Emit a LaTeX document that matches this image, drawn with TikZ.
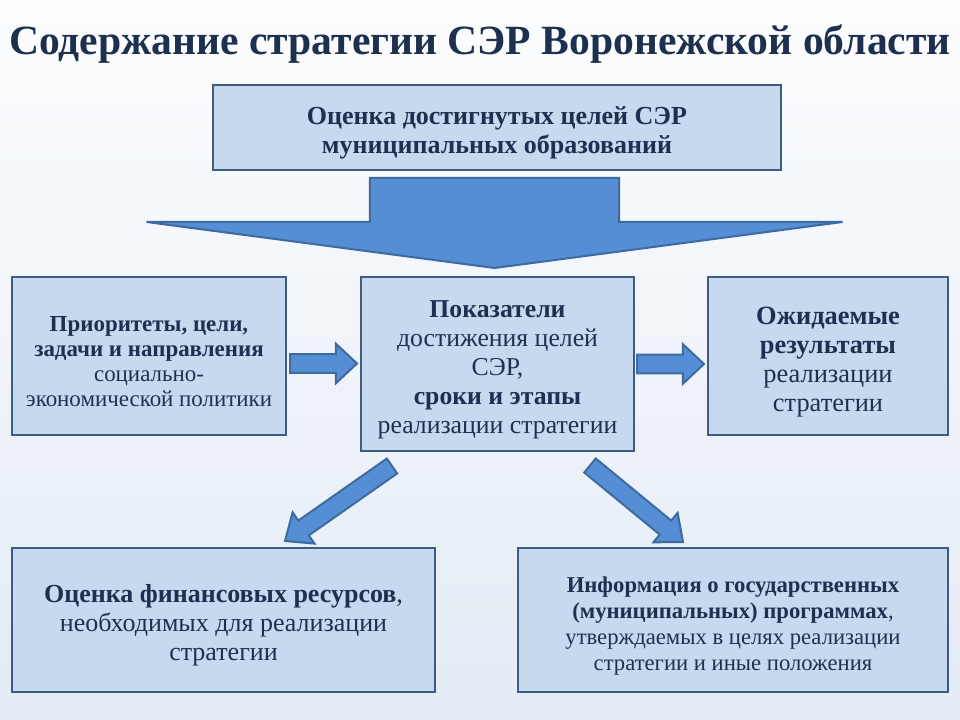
\documentclass[tikz,border=0pt]{standalone}
\usepackage{fontspec}
\setmainfont{Liberation Serif}
\usetikzlibrary{calc}

\definecolor{textnavy}{HTML}{1E3050}
\definecolor{boxfill}{HTML}{C6D9EF}
\definecolor{boxline}{HTML}{3E5B80}
\definecolor{arrowfill}{HTML}{558ED5}
\definecolor{arrowline}{HTML}{3D6A9F}
\definecolor{bgtop}{HTML}{FCFDFE}
\definecolor{bgbottom}{HTML}{E3EBF5}

\tikzset{
  infobox/.style={draw=boxline, fill=boxfill, line width=2pt, text=textnavy,
    align=center, inner sep=0pt},
  blockarrow/.style={draw=arrowline, fill=arrowfill, line width=1.5pt, line join=miter}
}

% extra room above the first line, moves the text a bit down in its box
\newcommand{\topgap}{\rule{0pt}{\dimexpr 0.72em+8pt\relax}}

% block arrow from #1 to #2: shaft half width #3, head half width #4, head length #5
\newcommand{\blockarrow}[5]{%
  \coordinate (ba-h) at ($(#2)!#5!(#1)$);
  \draw[blockarrow] ($(#1)!#3!90:(#2)$) -- ($(ba-h)!#3!-90:(#1)$)
    -- ($(ba-h)!#4!-90:(#1)$) -- (#2) -- ($(ba-h)!#4!90:(#1)$)
    -- ($(ba-h)!#3!90:(#1)$) -- ($(#1)!#3!-90:(#2)$) -- cycle;
}

\begin{document}
\begin{tikzpicture}[x=0.75pt, y=-0.75pt]
  % Background
  \useasboundingbox (0,0) rectangle (960,720);
  \shade[top color=bgtop, bottom color=bgbottom] (0,0) rectangle (960,720);

  % Title
  \node[text=textnavy, font=\fontsize{31.2}{36}\selectfont\bfseries] (title) at (480,44)
    {Содержание стратегии СЭР Воронежской области};

  % Boxes (sizes in px, 1px = 0.75pt)
  \node[infobox, minimum width=568*0.75, minimum height=85*0.75,
    font=\fontsize{19.5}{21.75}\selectfont\bfseries] (otsenka) at (497,127.5)
    {\topgap Оценка достигнутых целей СЭР\\муниципальных образований};
  \node[infobox, minimum width=274*0.75, minimum height=158*0.75,
    font=\fontsize{17.2}{18.75}\selectfont] (prior) at (149,356)
    {\topgap\textbf{Приоритеты, цели,}\\\textbf{задачи и направления}\\социально-\\экономической политики};
  \node[infobox, minimum width=273*0.75, minimum height=174*0.75,
    font=\fontsize{19.3}{21.75}\selectfont] (pokaz) at (497.5,364)
    {\topgap\textbf{Показатели}\\достижения целей\\СЭР,\\\textbf{сроки и этапы}\\реализации стратегии};
  \node[infobox, minimum width=240*0.75, minimum height=158*0.75,
    font=\fontsize{19.8}{21.75}\selectfont] (ozhid) at (828,356)
    {\topgap\textbf{Ожидаемые}\\\textbf{результаты}\\реализации\\стратегии};
  \node[infobox, minimum width=423*0.75, minimum height=144*0.75,
    font=\fontsize{19.5}{21.75}\selectfont] (finans) at (223.5,620)
    {\topgap\textbf{Оценка финансовых ресурсов},\\необходимых для реализации\\стратегии};
  \node[infobox, minimum width=430*0.75, minimum height=144*0.75,
    font=\fontsize{17}{19.5}\selectfont] (inform) at (733,620)
    {\topgap\textbf{Информация о государственных}\\\textbf{(муниципальных) программах},\\утверждаемых в целях реализации\\стратегии и иные положения};

  % Arrow end points
  \coordinate (big-s) at (494.5,178);
  \coordinate (big-e) at (494.5,268);
  \coordinate (left-s) at (290,363.5);
  \coordinate (left-e) at (357,363.5);
  \coordinate (right-s) at (637,364);
  \coordinate (right-e) at (704,364);
  \coordinate (dl-s) at (392,466);
  \coordinate (dl-e) at (285,541);
  \coordinate (dr-s) at (590,465.5);
  \coordinate (dr-e) at (683,542);

  % Big arrow under the top box
  \blockarrow{big-s}{big-e}{93.4pt}{261pt}{34.5pt}

  % Small arrows
  \foreach \s/\e in {left-s/left-e, right-s/right-e}
    {\blockarrow{\s}{\e}{7pt}{14.8pt}{15.8pt}}
  \foreach \s/\e in {dl-s/dl-e, dr-s/dr-e}
    {\blockarrow{\s}{\e}{6.8pt}{14.3pt}{17pt}}
\end{tikzpicture}
\end{document}
